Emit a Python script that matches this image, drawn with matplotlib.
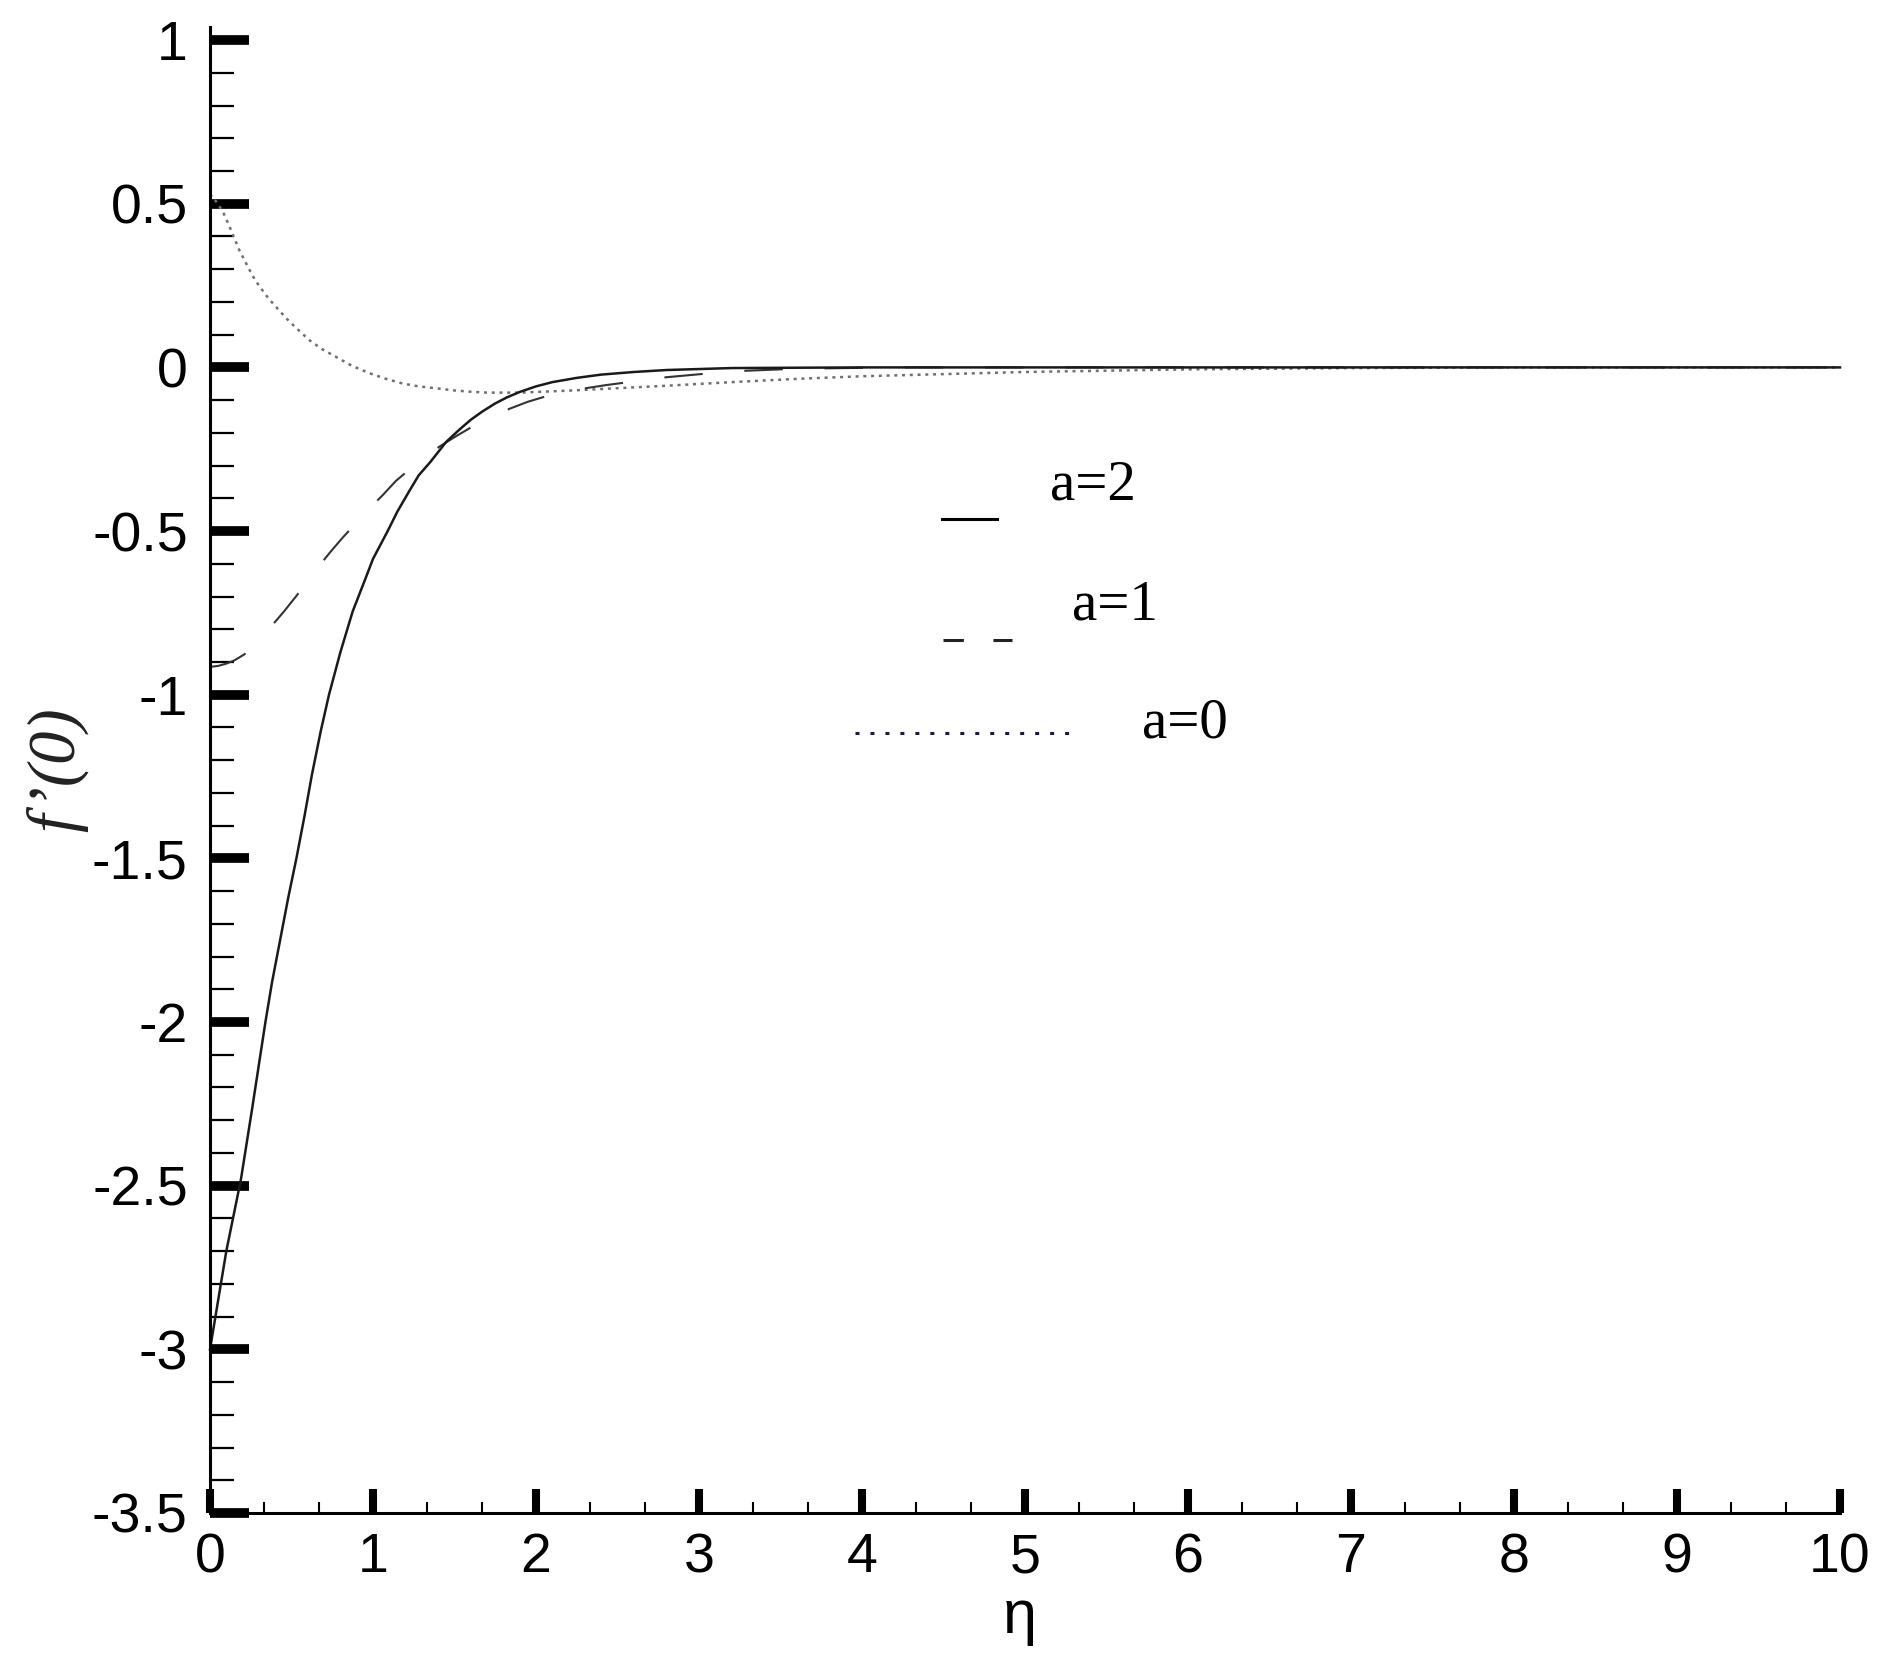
import matplotlib
matplotlib.use('Agg')
import matplotlib.pyplot as plt
from matplotlib.lines import Line2D
from matplotlib import ticker

# f'(0) profiles for a=2 (solid), a=1 (dashed), a=0 (dotted)
eta_a2 = [0, 0.05, 0.1, 0.19, 0.26, 0.34, 0.38, 0.43, 0.48, 0.53, 0.58, 0.625, 0.68,
          0.73, 0.8, 0.875, 0.95, 1.0, 1.09, 1.15, 1.22, 1.28, 1.35, 1.45, 1.53, 1.6,
          1.67, 1.75, 1.82, 1.9, 2.0, 2.1, 2.25, 2.4, 2.6, 2.8, 3.2, 4, 10]
f_a2 = [-3.0, -2.85, -2.7, -2.48, -2.26, -2.0, -1.88, -1.75, -1.62, -1.5, -1.37, -1.245,
        -1.11, -1.0, -0.87, -0.746, -0.65, -0.585, -0.5, -0.44, -0.38, -0.33, -0.29,
        -0.227, -0.19, -0.16, -0.135, -0.11, -0.092, -0.075, -0.058, -0.045, -0.032,
        -0.022, -0.014, -0.008, -0.002, 0, 0]

eta_a1 = [0, 0.05, 0.1, 0.15, 0.21, 0.29, 0.374, 0.45, 0.527, 0.6, 0.67, 0.74, 0.814,
          0.9, 0.98, 1.06, 1.14, 1.24, 1.33, 1.42, 1.51, 1.62, 1.74, 1.85, 1.95, 2.05,
          2.17, 2.3, 2.43, 2.8, 3.2, 3.6, 4.2, 10]
f_a1 = [-0.915, -0.912, -0.905, -0.895, -0.877, -0.84, -0.792, -0.748, -0.70, -0.653,
        -0.606, -0.563, -0.52, -0.474, -0.43, -0.39, -0.347, -0.305, -0.268, -0.238,
        -0.21, -0.178, -0.146, -0.124, -0.105, -0.09, -0.075, -0.064, -0.054, -0.03,
        -0.012, -0.004, 0, 0]

eta_a0 = [0, 0.04, 0.08, 0.12, 0.18, 0.26, 0.3, 0.36, 0.47, 0.53, 0.61, 0.69, 0.77,
          0.87, 0.98, 1.08, 1.18, 1.28, 1.39, 1.49, 1.59, 1.7, 1.8, 1.9, 2.0, 2.2, 2.4,
          2.8, 3.2, 3.6, 4, 5, 6, 7, 8, 10]
f_a0 = [0.53, 0.505, 0.475, 0.43, 0.358, 0.281, 0.25, 0.21, 0.149, 0.12, 0.083, 0.055,
        0.033, 0.005, -0.018, -0.035, -0.049, -0.058, -0.064, -0.07, -0.074, -0.077,
        -0.077, -0.077, -0.075, -0.071, -0.066, -0.056, -0.045, -0.035, -0.027, -0.014,
        -0.006, -0.002, 0, 0]

legend_labels = ['a=2', 'a=1', 'a=0']

W, H = 1893, 1677
fig = plt.figure(figsize=(W / 100, H / 100), dpi=100)
ax = fig.add_axes([210 / W, 1 - 1513 / H, 1630 / W, 1486 / H])

def fx(px):
    return px / W

def fy(py):
    return 1 - py / H

ax.plot(eta_a0, f_a0, color='#707070', lw=1.8, linestyle=(0, (1.2, 1.9)),
        dash_capstyle='butt', clip_on=False)
ax.plot(eta_a1, f_a1, color='#333333', lw=1.5, linestyle=(0, (18.5, 20)),
        dash_capstyle='butt', clip_on=False)
ax.plot(eta_a2, f_a2, color='#1a1a1a', lw=1.8, clip_on=False)

ax.set_xlim(0, 10)
ax.set_ylim(-3.5, 1.04)

ax.spines['top'].set_visible(False)
ax.spines['right'].set_visible(False)
ax.spines['left'].set_linewidth(2.2)
ax.spines['bottom'].set_linewidth(2.2)

ax.xaxis.set_major_locator(ticker.MultipleLocator(1))
ax.xaxis.set_minor_locator(ticker.MultipleLocator(1 / 3))
ax.yaxis.set_major_locator(ticker.MultipleLocator(0.5))
ax.yaxis.set_minor_locator(ticker.MultipleLocator(0.1))
ax.yaxis.set_major_formatter(ticker.FuncFormatter(lambda v, p: '%g' % v))
ax.xaxis.set_major_formatter(ticker.FuncFormatter(lambda v, p: '%g' % v))

ax.tick_params(axis='y', which='major', direction='in', length=28, width=7, pad=16)
ax.tick_params(axis='y', which='minor', direction='in', length=17, width=1.6)
ax.tick_params(axis='x', which='major', direction='in', length=17, width=5.8, pad=14)
ax.tick_params(axis='x', which='minor', direction='in', length=8, width=1.5)

for lab in ax.get_xticklabels() + ax.get_yticklabels():
    lab.set_fontfamily('Liberation Sans')
    lab.set_fontsize(40)

# axis titles
fig.text(fx(57), fy(770), 'f’(0)', rotation=90, ha='center', va='center',
         fontfamily='Liberation Serif', fontstyle='italic', fontsize=48, color='#222222')
fig.text(fx(1020), fy(1618), 'η', ha='center', va='center',
         fontfamily='Liberation Sans', fontsize=44)

# hand placed legend
fig.add_artist(Line2D([fx(942), fx(997)], [fy(519), fy(519)], color='black', lw=2.2))
fig.add_artist(Line2D([fx(943), fx(1012)], [fy(640), fy(640)], color='#222222', lw=2.2,
                      linestyle=(0, (6.67, 9.67)), dash_capstyle='butt'))
fig.add_artist(Line2D([fx(855), fx(1075)], [fy(733), fy(733)], color='#1a1a40', lw=2.2,
                      linestyle=(0, (1.3, 3.6)), dash_capstyle='butt'))
fig.text(fx(1050), fy(500), legend_labels[0], ha='left', va='baseline',
         fontfamily='Liberation Serif', fontsize=41)
fig.text(fx(1072), fy(620), legend_labels[1], ha='left', va='baseline',
         fontfamily='Liberation Serif', fontsize=41)
fig.text(fx(1142), fy(737), legend_labels[2], ha='left', va='baseline',
         fontfamily='Liberation Serif', fontsize=41)

fig.savefig('out.png', dpi=100)
